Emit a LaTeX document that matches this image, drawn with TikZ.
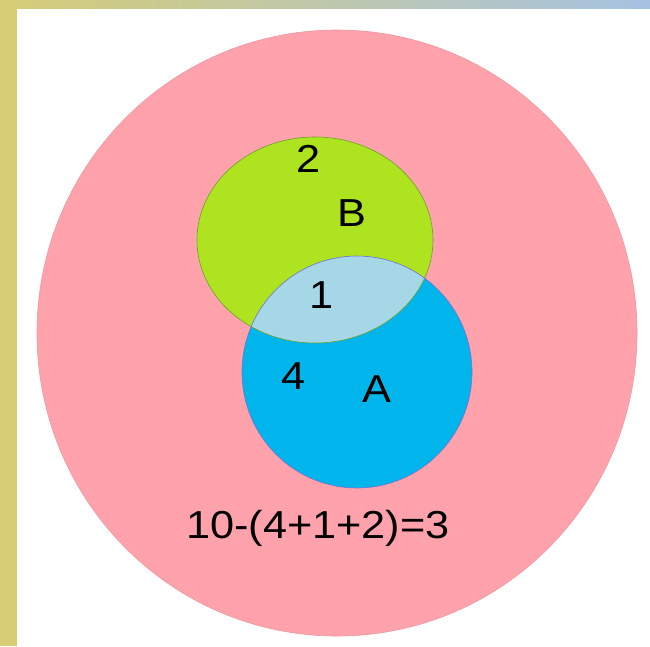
\documentclass[tikz,border=0pt]{standalone}
\usepackage{fontspec}
\setmainfont{Liberation Sans}
\usetikzlibrary{positioning}
\definecolor{frameL}{HTML}{D6CD76}
\definecolor{frameR}{HTML}{A6C2E2}
\definecolor{univ}{HTML}{FFA2AC}
\definecolor{univline}{HTML}{EE96A0}
\definecolor{setB}{HTML}{ADE31F}
\definecolor{setBline}{HTML}{6E9E2C}
\definecolor{setA}{HTML}{00B5EC}
\definecolor{setAline}{HTML}{7B6FD0}
\definecolor{both}{HTML}{A6D7E7}
\tikzset{
  setlabel/.style={inner sep=0pt,xscale=1.11,font=\fontsize{39}{39}\selectfont},
}

\begin{document}
\begin{tikzpicture}[x=1pt,y=-1pt]
\useasboundingbox (0,0) rectangle (650,646);
\fill[white] (0,0) rectangle (650,646);
% frame
\shade[left color=frameL,right color=frameR] (0,0) rectangle (650,8);
\fill[frameL] (0,0) rectangle (17,646);

% universe
\filldraw[fill=univ,draw=univline,line width=0.6pt] (337,333) ellipse [x radius=300,y radius=303];

% sets
\filldraw[fill=setB,draw=setBline,line width=0.6pt] (315,240) ellipse [x radius=118,y radius=103];
\fill[setA] (357,372) ellipse [x radius=115,y radius=116];
\begin{scope}
  \clip (315,240) ellipse [x radius=118,y radius=103];
  \fill[both] (357,372) ellipse [x radius=115,y radius=116];
\end{scope}
\draw[setAline,line width=0.6pt] (357,372) ellipse [x radius=115,y radius=116];
\begin{scope}
  \clip (357,372) ellipse [x radius=115,y radius=116];
  \draw[setBline,line width=0.6pt] (315,240) ellipse [x radius=118,y radius=103];
\end{scope}

% labels
\node[setlabel] (nB) at (309,159) {2};
\node[setlabel] (lB) at (352,213) {B};
\node[setlabel] (nAB) at (322,295) {1};
\node[setlabel] (nA) at (294,376) {4};
\node[setlabel] (lA) at (377,389) {A};
\node[setlabel,anchor=base] (rest) at (318,538) {10-(4+1+2)=3};
\end{tikzpicture}
\end{document}
